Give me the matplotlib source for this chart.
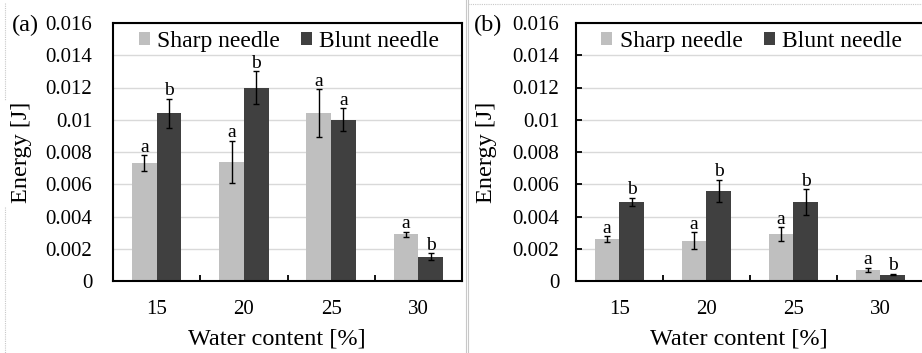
import numpy as np
import matplotlib
matplotlib.use("Agg")
import matplotlib.pyplot as plt
from matplotlib.lines import Line2D
from matplotlib.ticker import FixedLocator, FixedFormatter

plt.rcParams["font.family"] = ["Liberation Serif", "DejaVu Serif"]

# Data
water_content = ["15", "20", "25", "30"]

sharp_a = [0.0073, 0.0074, 0.0104, 0.0029]
sharp_a_err = [0.0005, 0.0013, 0.0015, 0.00015]
blunt_a = [0.0104, 0.0120, 0.0100, 0.0015]
blunt_a_err = [0.0009, 0.0010, 0.0007, 0.00022]
sharp_a_letters = ["a", "a", "a", "a"]
blunt_a_letters = ["b", "b", "a", "b"]

sharp_b = [0.0026, 0.0025, 0.0029, 0.0007]
sharp_b_err = [0.00017, 0.00054, 0.00043, 0.00012]
blunt_b = [0.0049, 0.0056, 0.0049, 0.0004]
blunt_b_err = [0.00026, 0.00067, 0.0008, 0.00004]
sharp_b_letters = ["a", "a", "a", "a"]
blunt_b_letters = ["b", "b", "b", "b"]

y_ticks = [0, 0.002, 0.004, 0.006, 0.008, 0.01, 0.012, 0.014, 0.016]
y_tick_labels = ["0", "0.002", "0.004", "0.006", "0.008", "0.01", "0.012", "0.014", "0.016"]

SHARP_COLOR = "#bfbfbf"
BLUNT_COLOR = "#404040"
GRID_COLOR = "#d9d9d9"

W, H = 922, 353
fig = plt.figure(figsize=(W / 100, H / 100), dpi=100)


def px_rect(left, right, top, bottom):
    return [left / W, 1 - bottom / H, (right - left) / W, (bottom - top) / H]


def draw_panel(ax, sharp, sharp_err, blunt, blunt_err, s_let, b_let, ytick_pad, ytick_len):
    x = np.arange(len(water_content))
    bw = 0.283
    ax.set_axisbelow(True)
    ax.yaxis.grid(True, color=GRID_COLOR, linewidth=1.0)
    ax.bar(x - bw / 2, sharp, bw, color=SHARP_COLOR, label="Sharp needle", zorder=2)
    ax.bar(x + bw / 2, blunt, bw, color=BLUNT_COLOR, label="Blunt needle", zorder=2)
    ax.errorbar(x - bw / 2, sharp, yerr=sharp_err, fmt="none", ecolor="black",
                elinewidth=1.0, capsize=2, capthick=1.0, zorder=3)
    ax.errorbar(x + bw / 2, blunt, yerr=blunt_err, fmt="none", ecolor="black",
                elinewidth=1.0, capsize=2, capthick=1.0, zorder=3)
    for xi, v, e, t in zip(x - bw / 2, sharp, sharp_err, s_let):
        ax.annotate(t, (xi, v + e), xytext=(0, 2.5), textcoords="offset points",
                    ha="center", va="baseline", fontsize=14)
    for xi, v, e, t in zip(x + bw / 2, blunt, blunt_err, b_let):
        ax.annotate(t, (xi, v + e), xytext=(0, 2.5), textcoords="offset points",
                    ha="center", va="baseline", fontsize=14)

    ax.set_xlim(-0.5, len(x) - 0.5)
    ax.set_ylim(0, 0.016)
    ax.set_xticks(x)
    ax.set_xticklabels(water_content, fontsize=15)
    ax.xaxis.set_minor_locator(FixedLocator(np.arange(-0.5, len(x), 1.0)))
    ax.tick_params(axis="x", which="both", direction="in", length=4.5, width=1.3,
                   pad=14, color="black")
    ax.yaxis.set_major_locator(FixedLocator(y_ticks))
    ax.yaxis.set_major_formatter(FixedFormatter(y_tick_labels))
    ax.tick_params(axis="y", direction="in", length=ytick_len, width=1.3,
                   pad=ytick_pad, labelsize=15)
    for s in ax.spines.values():
        s.set_linewidth(1.5)
        s.set_color("black")

    ax.set_ylabel("Energy [J]", fontsize=17.5)
    ax.set_xlabel("Water content [%]", fontsize=17.5)
    ax.xaxis.set_label_coords(0.469, -0.185)

    ax.legend(loc="center", bbox_to_anchor=(0.505, 0.93), ncol=2, frameon=False,
              fontsize=17, handlelength=0.47, handleheight=0.47,
              handletextpad=0.3, columnspacing=0.9, borderpad=0, borderaxespad=0)


ax_a = fig.add_axes(px_rect(113, 462, 23, 281))
draw_panel(ax_a, sharp_a, sharp_a_err, blunt_a, blunt_a_err,
           sharp_a_letters, blunt_a_letters, ytick_pad=15, ytick_len=0)
ax_a.yaxis.set_label_coords(-0.232, 0.5)

ax_b = fig.add_axes(px_rect(576, 923.7, 23, 281))
draw_panel(ax_b, sharp_b, sharp_b_err, blunt_b, blunt_b_err,
           sharp_b_letters, blunt_b_letters, ytick_pad=12, ytick_len=4.5)
ax_b.spines["right"].set_visible(False)
ax_b.yaxis.set_label_coords(-0.226, 0.5)

fig.text(12 / W, 1 - 25 / H, "(a)", fontsize=17.5, ha="left", va="center")
fig.text(474 / W, 1 - 25 / H, "(b)", fontsize=17.5, ha="left", va="center")

# thin frame lines separating the two panels
for xp in (465.7, 468.3):
    fig.add_artist(Line2D([xp / W, xp / W], [0, 1], color="#c8c8c8", linewidth=0.8))
fig.add_artist(Line2D([468 / W, 1], [1 - 4 / H, 1 - 4 / H], color="#c8c8c8",
                      linewidth=0.8, linestyle=(0, (1, 1))))
fig.add_artist(Line2D([5 / W, 5 / W], [1 - 3 / H, 1 - 100 / H], color="#c8c8c8",
                      linewidth=0.8, linestyle=(0, (1, 1))))
fig.add_artist(Line2D([5 / W, 5 / W], [1 - 207 / H, 0], color="#c8c8c8",
                      linewidth=0.8, linestyle=(0, (1, 1))))

fig.savefig("out.png", dpi=100)
